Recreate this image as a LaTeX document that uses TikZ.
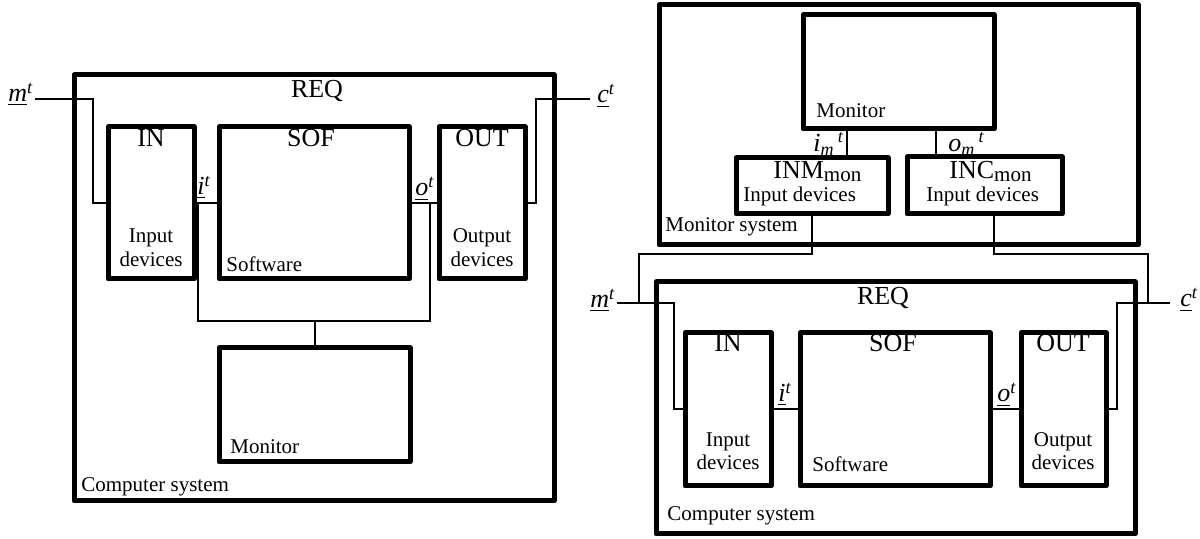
\documentclass[tikz,border=0pt]{standalone}
\usepackage{fontspec}
\setmainfont{Liberation Serif}
\usetikzlibrary{fit,calc}
\newcommand\lowsub[1]{\raisebox{-1.5pt}{\fontsize{10.5}{12}\selectfont #1}}
\newcommand\msub[1]{\raisebox{-1.6pt}{\fontsize{9}{10}\selectfont\textit{#1}}}
\newcommand\msup[1]{\raisebox{4.6pt}{\fontsize{9}{10}\selectfont\textit{#1}}}
\begin{document}
\begin{tikzpicture}[x=0.5pt,y=-0.5pt,
  box/.style={draw, line width=2.5pt, inner sep=0pt, outer sep=0pt, line join=round},
  wire/.style={line width=1pt},
  big/.style={font=\fontsize{13}{15}\selectfont, inner sep=0pt},
  small/.style={font=\fontsize{10.5}{12}\selectfont, inner sep=0pt}]
\useasboundingbox (0,0) rectangle (1200,539);

% ---------------- left diagram ----------------
\coordinate (a1) at (74,75);   \coordinate (b1) at (554,501);
\node[box, fit=(a1)(b1)] (CS1) {};
\coordinate (a2) at (108,127); \coordinate (b2) at (194,279);
\node[box, fit=(a2)(b2)] (IN1) {};
\coordinate (a3) at (219,127); \coordinate (b3) at (409,279);
\node[box, fit=(a3)(b3)] (SOF1) {};
\coordinate (a4) at (439,127); \coordinate (b4) at (525,279);
\node[box, fit=(a4)(b4)] (OUT1) {};
\coordinate (a5) at (219,348); \coordinate (b5) at (410,462);
\node[box, fit=(a5)(b5)] (MON1) {};

\node[big, anchor=base] (req1) at (317,98) {REQ};
\node[big, anchor=base] (inl1) at (151,147) {IN};
\node[big, anchor=base] (sofl1) at (311,147) {SOF};
\node[big, anchor=base] (outl1) at (482,147) {OUT};
\node[small, anchor=base] (inp1) at (151,243) {Input};
\node[small, anchor=base] (ind1) at (151,267) {devices};
\node[small, anchor=base] (outp1) at (482,243) {Output};
\node[small, anchor=base] (outd1) at (482,267) {devices};
\node[small, anchor=base west] (sw1) at (226,272) {Software};
\node[small, anchor=base west] (mon1t) at (230,454) {Monitor};
\node[small, anchor=base west] (cs1t) at (81,492) {Computer system};

\node[big, anchor=base west] (mt1) at (8,102) {\underline{\textit{m}}\textsuperscript{\textit{t}}};
\node[big, anchor=base west] (it1) at (197,195) {\underline{\textit{i}}\textsuperscript{\textit{t}}};
\node[big, anchor=base west] (ot1) at (415,196) {\underline{\textit{o}}\textsuperscript{\textit{t}}};
\node[big, anchor=base west] (ct1) at (597,103) {\underline{\textit{c}}\textsuperscript{\textit{t}}};

\coordinate (mL1) at (35,99);
\coordinate (cR1) at (590,99);
\draw[wire] (mL1) -| (93,203) -- (IN1.west);
\draw[wire] (IN1.east) -- (SOF1.west);
\draw[wire] (SOF1.east) -- (OUT1.west);
\draw[wire] (OUT1.east) -| (536,99) -- (cR1);
\coordinate (ji1) at (198,203);
\coordinate (jo1) at (430,203);
\coordinate (jm1) at (314.5,321);
\draw[wire] (ji1) |- (jm1) -| (jo1);
\draw[wire] (jm1) -- (MON1.north);

% ---------------- right diagram ----------------
\coordinate (c1) at (659,5);    \coordinate (d1) at (1138,245);
\node[box, fit=(c1)(d1)] (MS) {};
\coordinate (c2) at (803,15);   \coordinate (d2) at (994,129);
\node[box, fit=(c2)(d2)] (MON2) {};
\coordinate (c3) at (736,158);  \coordinate (d3) at (888,214);
\node[box, fit=(c3)(d3)] (INM) {};
\coordinate (c4) at (907,157);  \coordinate (d4) at (1062,214);
\node[box, fit=(c4)(d4)] (INC) {};
\coordinate (c5) at (656,282);  \coordinate (d5) at (1135,534);
\node[box, fit=(c5)(d5)] (CS2) {};
\coordinate (c6) at (685,333);  \coordinate (d6) at (771,486);
\node[box, fit=(c6)(d6)] (IN2) {};
\coordinate (c7) at (800,333);  \coordinate (d7) at (990,486);
\node[box, fit=(c7)(d7)] (SOF2) {};
\coordinate (c8) at (1021,333); \coordinate (d8) at (1106,486);
\node[box, fit=(c8)(d8)] (OUT2) {};

\node[small, anchor=base west] (mon2t) at (816,118) {Monitor};
\node[big, anchor=base west] (inmt) at (773,179) {INM\lowsub{mon}};
\node[small, anchor=base west] (inmd) at (743,202) {Input devices};
\node[big, anchor=base west] (inct) at (949,179) {INC\lowsub{mon}};
\node[small, anchor=base west] (incd) at (926,202) {Input devices};
\node[small, anchor=base west] (mst) at (665,232) {Monitor system};
\node[big, anchor=base west] (imt) at (813,152) {\textit{i}\msub{m}\,\msup{t}};
\node[big, anchor=base west] (omt) at (948,152) {\textit{o}\msub{m}\,\msup{t}};

\node[big, anchor=base] (req2) at (883,305) {REQ};
\node[big, anchor=base] (inl2) at (728,352) {IN};
\node[big, anchor=base] (sofl2) at (893,352) {SOF};
\node[big, anchor=base] (outl2) at (1063,352) {OUT};
\node[small, anchor=base] (inp2) at (728,447) {Input};
\node[small, anchor=base] (ind2) at (728,470) {devices};
\node[small, anchor=base] (outp2) at (1063,447) {Output};
\node[small, anchor=base] (outd2) at (1063,470) {devices};
\node[small, anchor=base west] (sw2) at (812,472) {Software};
\node[small, anchor=base west] (cs2t) at (667,521) {Computer system};

\node[big, anchor=base west] (mt2) at (590,308) {\underline{\textit{m}}\textsuperscript{\textit{t}}};
\node[big, anchor=base west] (it2) at (778,402) {\underline{\textit{i}}\textsuperscript{\textit{t}}};
\node[big, anchor=base west] (ot2) at (997,402) {\underline{\textit{o}}\textsuperscript{\textit{t}}};
\node[big, anchor=base west] (ct2) at (1180,307) {\underline{\textit{c}}\textsuperscript{\textit{t}}};

\coordinate (mL2) at (617,303);
\coordinate (cR2) at (1170,303);
\draw[wire] (mL2) -| (674,409.5) -- (IN2.west);
\draw[wire] (IN2.east) -- (SOF2.west);
\draw[wire] (SOF2.east) -- (OUT2.west);
\draw[wire] (OUT2.east) -| (1117,303) -- (cR2);
\coordinate (jm2) at (639,303);
\coordinate (jc2) at (1148,303);
\draw[wire] (INM.south) |- (639,254) -- (jm2);
\draw[wire] (INC.south -| MON2.east) |- (1148,254) -- (jc2);
\draw[wire] (MON2.south -| 847,0) -- (INM.north -| 847,0);
\draw[wire] (MON2.south -| 936,0) -- (INC.north -| 936,0);
\end{tikzpicture}
\end{document}
